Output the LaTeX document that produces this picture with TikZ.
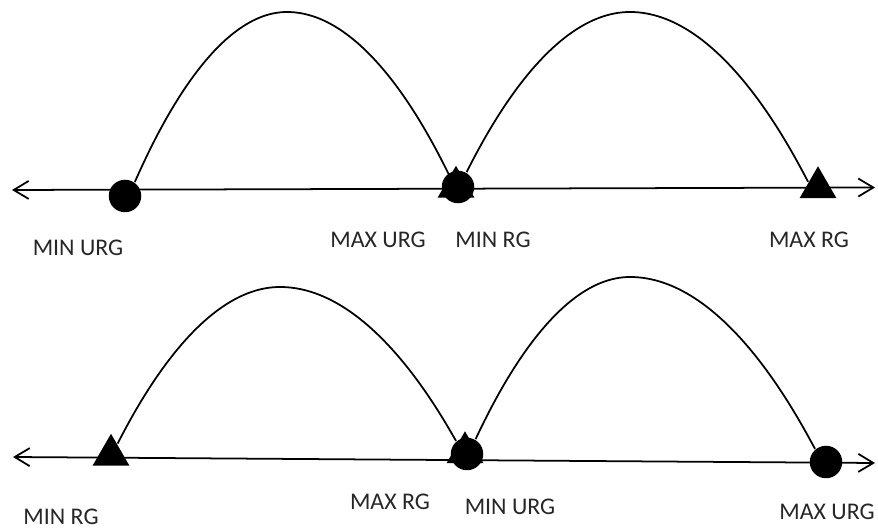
\documentclass[tikz,border=0pt]{standalone}
\usepackage{fontspec}
\setmainfont{Carlito}
\usetikzlibrary{shapes.geometric,arrows.meta}
\begin{document}
\begin{tikzpicture}[line width=1pt,
    every node/.style={font=\fontsize{13.6}{15}\selectfont, text=black!85},
    dot/.style={circle, fill, inner sep=0pt, minimum size=6.5mm},
    tri/.style={regular polygon, regular polygon sides=3, fill, inner sep=0pt, minimum size=8.5mm},
    tip/.style={{Straight Barb[length=3mm,width=3.6mm]}-{Straight Barb[length=3mm,width=3.6mm]}}]
    \useasboundingbox (0,0) rectangle (17.56,10.6);

    % Top line
    \coordinate (tl) at (0.24,6.8);
    \coordinate (tr) at (17.5,6.85);
    \draw[tip] (tl) -- (tr);
    \node[dot] (c1) at (2.5,6.68) {};
    \node[tri] (t1) at (9.12,6.86) {};
    \node[dot] (c2) at (9.16,6.86) {};
    \node[tri] (t2) at (16.36,6.85) {};
    \coordinate (p1) at (5.74,10.36);
    \coordinate (p2) at (12.6,10.36);
    \draw (c1.55) parabola bend (p1) (t1.120);
    \draw (c2.60) parabola bend (p2) (t2.150);

    \node at (1.56,5.64) {MIN URG};
    \node at (7.56,5.8) {MAX URG};
    \node at (9.86,5.8) {MIN RG};
    \node at (16.18,5.8) {MAX RG};

    % Bottom line
    \coordinate (bl) at (0.26,1.46);
    \coordinate (br) at (17.5,1.34);
    \draw[tip] (bl) -- (br);
    \node[tri] (t3) at (2.22,1.5) {};
    \node[tri] (t4) at (9.3,1.55) {};
    \node[dot] (c3) at (9.34,1.52) {};
    \node[dot] (c4) at (16.52,1.36) {};
    \coordinate (p3) at (5.6,4.86);
    \coordinate (p4) at (12.6,5.06);
    \draw (t3.60) parabola bend (p3) (c3.130);
    \draw (c3.60) parabola bend (p4) (c4.130);

    \node at (1.22,0.26) {MIN RG};
    \node at (7.8,0.56) {MAX RG};
    \node at (10.2,0.46) {MIN URG};
    \node at (16.54,0.36) {MAX URG};
\end{tikzpicture}
\end{document}
